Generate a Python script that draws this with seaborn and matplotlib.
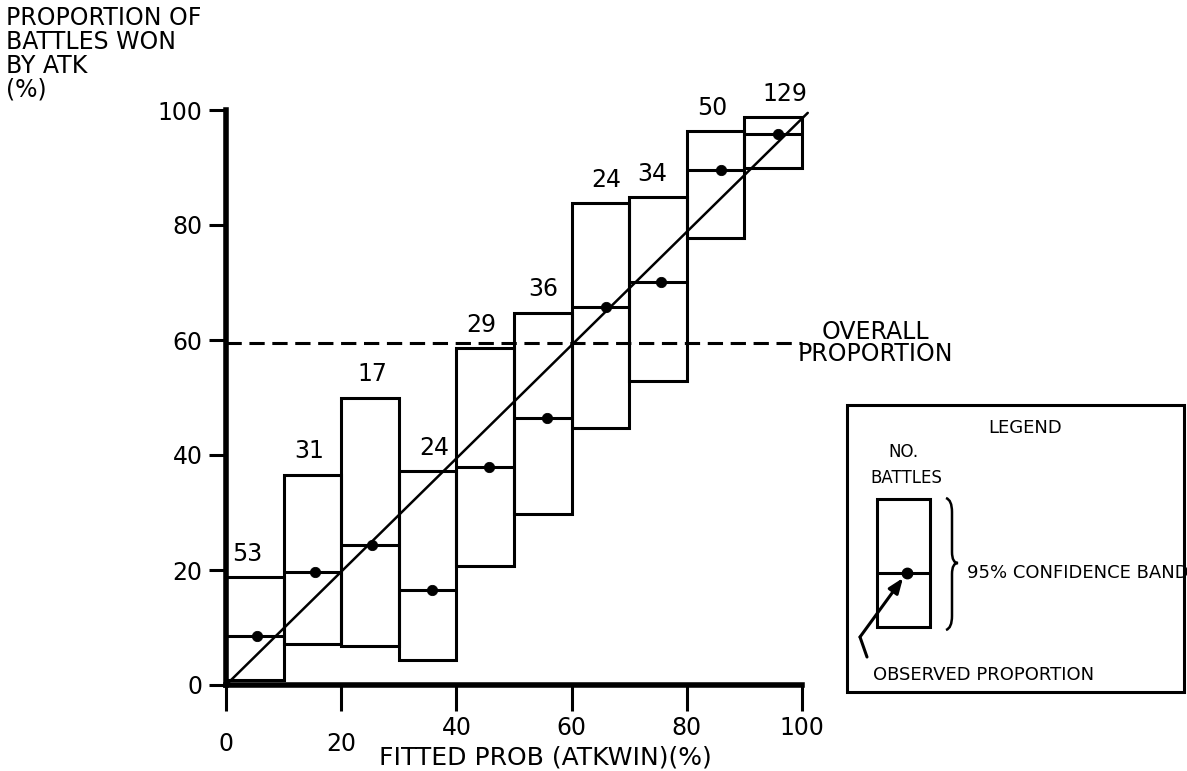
import numpy as np
import pandas as pd
import matplotlib
matplotlib.use("Agg")
import matplotlib.pyplot as plt
import seaborn as sns
from matplotlib.patches import Rectangle, PathPatch
from matplotlib.path import Path

bin_left = [0, 10, 20, 30, 40, 50, 60, 70, 80, 90]
bin_width = 10
lower = [0.9, 7.1, 6.8, 4.3, 20.7, 29.7, 44.7, 52.9, 77.8, 89.9]
upper = [18.7, 36.6, 50.0, 37.2, 58.6, 64.7, 83.8, 84.8, 96.3, 98.7]
observed = [8.6, 19.6, 24.3, 16.6, 37.9, 46.4, 65.8, 70.1, 89.6, 95.8]
mean_fitted = [5.4, 15.5, 25.3, 35.7, 45.7, 55.8, 65.9, 75.6, 86.0, 95.9]
n_battles = [53, 31, 17, 24, 29, 36, 24, 34, 50, 129]
overall_prop = 59.5
fit_x = [0, 101]
fit_y = [0, 99.5]
ticks = [0, 20, 40, 60, 80, 100]

# where the counts sit (centre of label, in x units)
label_x = [3.7, 14.4, 25.4, 36.1, 44.3, 55.0, 66.0, 74.0, 84.5, 97.0]

df = pd.DataFrame({"left": bin_left, "lower": lower, "upper": upper,
                   "obs": observed, "xm": mean_fitted, "n": n_battles})

sns.set_style("ticks")
plt.rcParams["font.family"] = ["DejaVu Sans"]
plt.rcParams["text.color"] = "black"
plt.rcParams["axes.edgecolor"] = "black"
plt.rcParams["xtick.color"] = "black"
plt.rcParams["ytick.color"] = "black"
plt.rcParams["axes.labelcolor"] = "black"

W, H = 1187, 771
fig = plt.figure(figsize=(W / 100, H / 100), dpi=100)

# main axes: x 0 -> px 226, 5.76 px per unit; y 0 -> px 685, 5.75 px per unit
ax = fig.add_axes([226 / W, (H - 685) / H, 102 * 5.76 / W, 102 * 5.75 / H])
ax.set_xlim(0, 102)
ax.set_ylim(0, 102)

lw = 2.2
ax.bar(df["left"], df["upper"] - df["lower"], bottom=df["lower"], width=bin_width,
       align="edge", fill=False, edgecolor="black", linewidth=lw, zorder=3)
ax.hlines(df["obs"], df["left"], df["left"] + bin_width, color="black", lw=lw, zorder=3)
sns.scatterplot(data=df, x="xm", y="obs", ax=ax, color="black", edgecolor="black",
                s=55, zorder=4, legend=False)
sns.lineplot(x=fit_x, y=fit_y, ax=ax, color="black", lw=1.8, zorder=4)
ax.plot([0, 100], [overall_prop, overall_prop], color="black", lw=lw,
        ls=(0, (5, 2.5)), zorder=2)

for xl, top, n in zip(label_x, df["upper"], df["n"]):
    ax.text(xl, top + 2, str(n), ha="center", va="bottom", fontsize=17)

ax.text(112.8, overall_prop, "OVERALL\nPROPORTION", ha="center", va="center",
        fontsize=17, linespacing=0.9)

# axes frame
sns.despine(ax=ax)
for side in ["left", "bottom"]:
    ax.spines[side].set_linewidth(4)
    ax.spines[side].set_bounds(0, 100)
ax.set_xticks(ticks)
ax.set_yticks(ticks)
ax.set_yticklabels([str(t) for t in ticks])
ax.tick_params(axis="y", length=12, width=lw, labelsize=17, pad=5)
ax.tick_params(axis="x", length=19, width=lw, labelbottom=False)
ax.set_xlabel("")
ax.set_ylabel("")
for t in ticks:
    off = 34 if t < 40 else 22
    ax.annotate(str(t), xy=(t, 0), xytext=(0, -off), textcoords="offset points",
                ha="center", va="top", fontsize=17, annotation_clip=False)

# overlay in pixel coordinates for titles and legend
ov = fig.add_axes([0, 0, 1, 1])
ov.set_xlim(0, W)
ov.set_ylim(H, 0)
ov.axis("off")

ov.text(6, 6, "PROPORTION OF\nBATTLES WON\nBY ATK\n(%)", ha="left", va="top",
        fontsize=17, linespacing=1.0)
ov.text(545, 757, "FITTED PROB (ATKWIN)(%)", ha="center", va="center", fontsize=18)

# legend panel
ov.add_patch(Rectangle((847, 405), 337, 287, fill=False, lw=lw, ec="black"))
ov.text(1025, 428, "LEGEND", ha="center", va="center", fontsize=13)
ov.text(903, 452, "NO.", ha="center", va="center", fontsize=12)
ov.text(906, 478, "BATTLES", ha="center", va="center", fontsize=12)
ov.add_patch(Rectangle((877, 499), 53, 128, fill=False, lw=lw, ec="black"))
ov.plot([877, 930], [573, 573], color="black", lw=lw)
ov.plot([907], [573], "o", color="black", ms=7.5)
verts = [(946, 498), (952, 500), (952, 512),
         (952, 552), (952, 563), (958, 563),
         (952, 563), (952, 574), (952, 616), (952, 628), (946, 630)]
codes = [Path.MOVETO, Path.CURVE3, Path.CURVE3,
         Path.LINETO, Path.CURVE3, Path.CURVE3,
         Path.CURVE3, Path.CURVE3, Path.LINETO, Path.CURVE3, Path.CURVE3]
ov.add_patch(PathPatch(Path(verts, codes), fill=False, lw=1.8, ec="black"))
ov.text(967, 573, "95% CONFIDENCE BAND", ha="left", va="center", fontsize=13)
ov.plot([867, 860], [657, 637], color="black", lw=lw, solid_capstyle="round")
ov.annotate("", xy=(903, 578), xytext=(860, 637),
            arrowprops=dict(arrowstyle="-|>,head_length=0.9,head_width=0.35",
                            lw=lw, color="black", shrinkA=0, shrinkB=0))
ov.text(873, 675, "OBSERVED PROPORTION", ha="left", va="center", fontsize=13)

fig.savefig("out.png", dpi=100, facecolor="white")
